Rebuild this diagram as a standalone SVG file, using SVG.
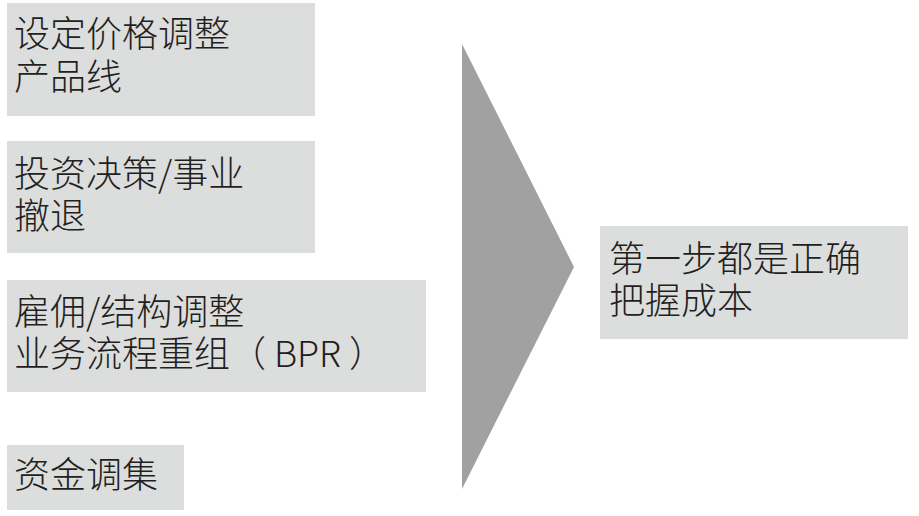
<svg xmlns="http://www.w3.org/2000/svg" width="919" height="516" viewBox="0 0 919 516">
<style>
.box{fill:#dcdddd}
.t{font-family:"Noto Sans CJK SC","Noto Sans",sans-serif;font-size:36px;font-weight:300;fill:#231f20}
</style>
<rect width="919" height="516" fill="#ffffff"/>
<g id="connectors">
<polygon points="462,44 574,267 462,489" fill="#a0a1a0"/>
</g>
<g id="node1">
<rect class="box" x="7" y="3" width="308" height="113"/>
<text class="t"><tspan x="14" y="47">设定价格调整</tspan><tspan x="14" y="90">产品线</tspan></text>
</g>
<g id="node2">
<rect class="box" x="7" y="141" width="308" height="112"/>
<text class="t"><tspan x="14" y="187">投资决策/事业</tspan><tspan x="14" y="229">撤退</tspan></text>
</g>
<g id="node3">
<rect class="box" x="7" y="280" width="419" height="112"/>
<text class="t"><tspan x="14" y="325">雇佣/结构调整</tspan><tspan x="14" y="367">业务流程重组（ BPR ）</tspan></text>
</g>
<g id="node4">
<rect class="box" x="7" y="445" width="177" height="65"/>
<text class="t" x="14" y="488">资金调集</text>
</g>
<g id="node5">
<rect class="box" x="600" y="226" width="308" height="113"/>
<text class="t"><tspan x="609" y="272">第一步都是正确</tspan><tspan x="609" y="314">把握成本</tspan></text>
</g>
</svg>
